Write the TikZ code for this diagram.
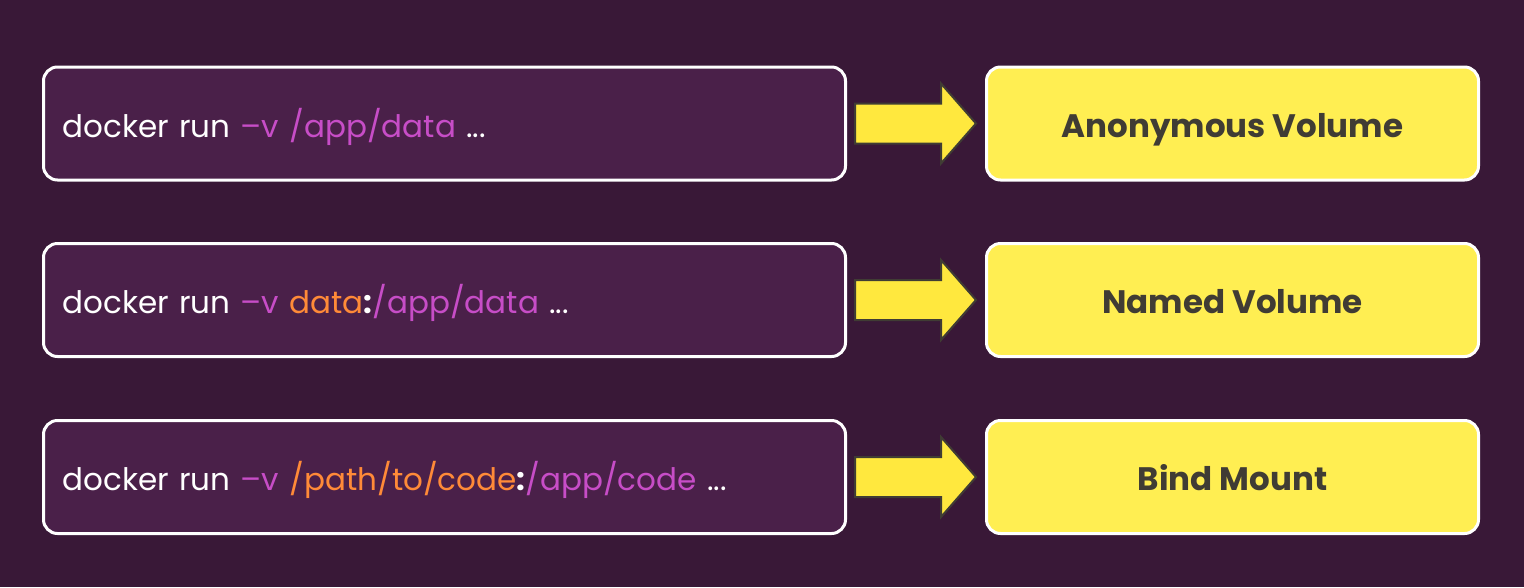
\documentclass[tikz,border=0pt]{standalone}
\usepackage{fontspec}
\setmainfont{Poppins}
\usepackage{xcolor}
\usetikzlibrary{calc}
\definecolor{bgpurple}{RGB}{57,24,55}
\definecolor{cmdpurple}{RGB}{74,32,73}
\definecolor{volyellow}{RGB}{255,238,82}
\definecolor{arryellow}{RGB}{255,232,62}
\definecolor{flagpink}{RGB}{199,77,199}
\definecolor{hostorange}{RGB}{255,138,56}
\definecolor{labelgray}{RGB}{64,60,52}
\newcommand{\flag}[1]{\textcolor{flagpink}{#1}}
\newcommand{\host}[1]{\textcolor{hostorange}{#1}}
\begin{document}
\begin{tikzpicture}[x=1pt, y=-1pt,
    cmdbox/.style={draw=white, line width=3pt, fill=cmdpurple, rounded corners=14pt,
      text width=764pt, inner xsep=19pt, minimum height=113pt, align=left,
      text height=27pt, text depth=0pt,
      text=white, font=\fontsize{31}{36}\selectfont},
    volbox/.style={draw=white, line width=3pt, fill=volyellow, rounded corners=14pt,
      minimum width=492pt, minimum height=113pt, text=labelgray,
      text height=27pt, text depth=0pt,
      font=\fontsize{32.5}{36}\selectfont\bfseries},
    bigarrow/.style={fill=arryellow, draw=labelgray, line width=2pt, line join=miter}]
      \fill[bgpurple] (0,0) rectangle (1524,587);
      \useasboundingbox (0,0) rectangle (1524,587);
      \node[cmdbox] (cmd1) at (444.5,123.5) {docker run \flag{–v /app/data} ...};
      \node[cmdbox] (cmd2) at (444.5,300) {docker run \flag{–v} \host{data}\textbf{:}\flag{/app/data} ...};
      \node[cmdbox] (cmd3) at (444.5,477) {docker run \flag{–v} \host{/path/to/code}\textbf{:}\flag{/app/code} ...};
      \node[volbox] (vol1) at (1232.5,123.5) {Anonymous Volume};
      \node[volbox] (vol2) at (1232.5,300) {Named Volume};
      \node[volbox] (vol3) at (1232.5,477) {Bind Mount};
      % arrows between the boxes
      \foreach \i in {1,2,3} {
        \draw[bigarrow] ($(cmd\i.east)+(8,-20)$) -- ++(86,0) -- ++(0,-20)
          -- ($(vol\i.west)+(-9,0)$) -- ($(cmd\i.east)+(94,40)$) -- ++(0,-20)
          -- ($(cmd\i.east)+(8,20)$) -- cycle;
      }
    \end{tikzpicture}
\end{document}
